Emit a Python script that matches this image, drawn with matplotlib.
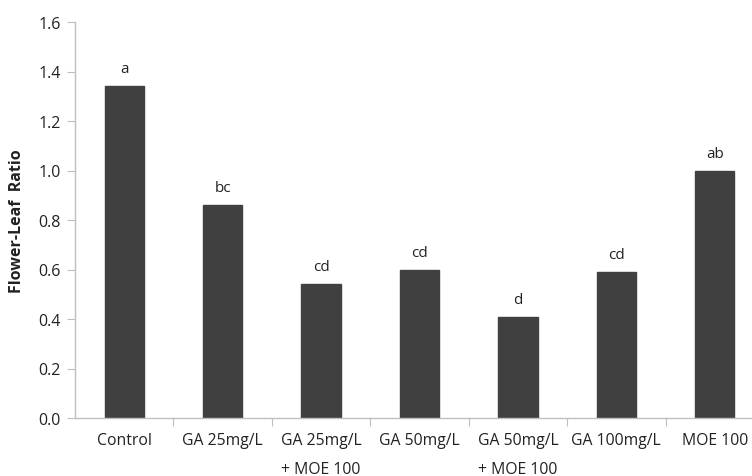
import matplotlib
matplotlib.use("Agg")
import matplotlib.pyplot as plt

categories = ["Control", "GA 25mg/L", "GA 25mg/L\n+ MOE 100", "GA 50mg/L",
              "GA 50mg/L\n+ MOE 100", "GA 100mg/L", "MOE 100"]
values = [1.34, 0.86, 0.54, 0.60, 0.41, 0.59, 1.00]
letters = ["a", "bc", "cd", "cd", "d", "cd", "ab"]
yticks = [0.0, 0.2, 0.4, 0.6, 0.8, 1.0, 1.2, 1.4, 1.6]

plt.rcParams['font.family'] = ['Open Sans', 'DejaVu Sans']

W, H = 752, 477
fig = plt.figure(figsize=(W / 100, H / 100), dpi=100)
left, right, top, bottom = 75, 764, 23, 419
ax = fig.add_axes([left / W, 1 - bottom / H, (right - left) / W, (bottom - top) / H])

x = list(range(len(categories)))
ax.bar(x, values, width=0.4, color="#404040", edgecolor="#404040", zorder=2)
for xi, v, l in zip(x, values, letters):
    ax.text(xi, v + 0.04, l, ha="center", va="bottom", fontsize=11, color="#222222")

ax.set_xlim(-0.5, len(categories) - 0.5)
ax.set_ylim(0, 1.6)
ax.set_yticks(yticks)
ax.set_yticklabels([f"{t:.1f}" for t in yticks])
ax.set_xticks([i - 0.5 for i in range(1, len(categories))], minor=False)
ax.set_xticklabels([])
ax.set_xticks(x, minor=True)
ax.set_xticklabels(categories, minor=True, fontsize=11.3, color="#222222", linespacing=2.1, va="top")
ax.tick_params(axis="x", which="minor", length=0, pad=10)
ax.tick_params(axis="x", which="major", length=6, color="#bfbfbf", direction="out")
ax.tick_params(axis="y", length=6, color="#bfbfbf", direction="out", labelsize=11.5,
               labelcolor="#222222", pad=4)

for s in ["top", "right"]:
    ax.spines[s].set_visible(False)
for s in ["left", "bottom"]:
    ax.spines[s].set_color("#bfbfbf")
    ax.spines[s].set_linewidth(1.0)

ax.set_ylabel("Flower-Leaf  Ratio", fontsize=11.5, fontweight="bold", color="#222222", labelpad=10)

fig.savefig("out.png", dpi=100)
